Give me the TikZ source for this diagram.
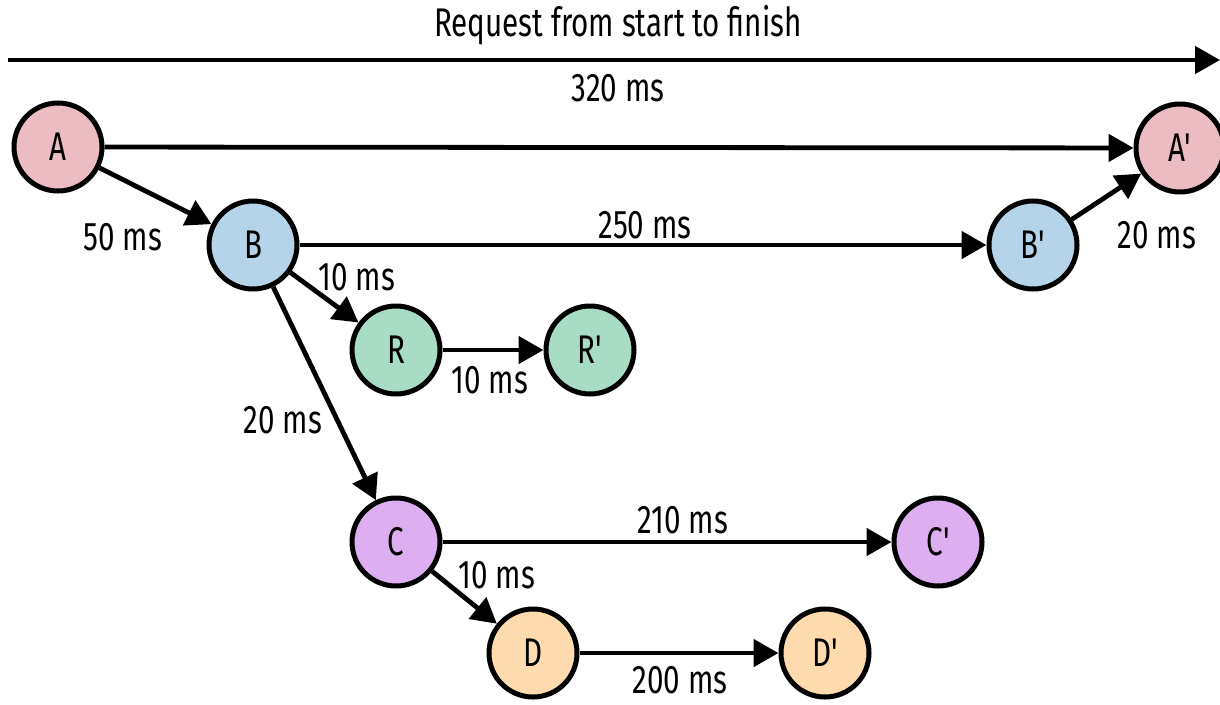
\documentclass[tikz,border=0pt]{standalone}
\usepackage{fontspec}
\setmainfont{Fira Sans}[FakeStretch=0.74,Ligatures=TeXOff]
\usetikzlibrary{arrows.meta,shadows}
\definecolor{cA}{HTML}{EBBCC1}
\definecolor{cB}{HTML}{B5D4EA}
\definecolor{cR}{HTML}{A9DCC4}
\definecolor{cC}{HTML}{DDAEF0}
\definecolor{cD}{HTML}{FDDBAF}
\begin{document}
\begin{tikzpicture}[x=1pt,y=-1pt,
  ev/.style={circle,draw=black,line width=5pt,minimum size=88pt,inner sep=0pt,font=\fontsize{40}{42}\selectfont,
    drop shadow={opacity=0.18,shadow xshift=2pt,shadow yshift=-2pt}},
  conn/.style={line width=4.8pt,-{Triangle[length=25pt,width=27pt]}},
  lbl/.style={font=\fontsize{40}{42}\selectfont,inner sep=0pt}]
\useasboundingbox (0,0) rectangle (1220,704);
\coordinate (ts) at (8,60);
\coordinate (te) at (1220,60);
\draw[conn] (ts) -- (te);
\node[lbl] (title) at (618,25) {Request from start to finish};
\node[ev,fill=cA] (A) at (58,147) {A};
\node[ev,fill=cA] (A2) at (1180,148) {A'};
\node[ev,fill=cB] (B) at (253,245) {B};
\node[ev,fill=cB] (B2) at (1033,245) {B'};
\node[ev,fill=cR] (R) at (396,350) {R};
\node[ev,fill=cR] (R2) at (590,350) {R'};
\node[ev,fill=cC] (C) at (396,542) {C};
\node[ev,fill=cC] (C2) at (938,542) {C'};
\node[ev,fill=cD] (D) at (533,653) {D};
\node[ev,fill=cD] (D2) at (825,653) {D'};
\draw[conn] (A) -- (A2);
\draw[conn] (A) -- (B);
\draw[conn] (B) -- (B2);
\draw[conn] (B2) -- (A2);
\draw[conn] (B) -- (R);
\draw[conn] (R) -- (R2);
\draw[conn] (B) -- (C);
\draw[conn] (C) -- (C2);
\draw[conn] (C) -- (D);
\draw[conn] (D) -- (D2);
\node[lbl] (l320) at (618,88) {320 ms};
\node[lbl] (l50) at (123,237) {50 ms};
\node[lbl] (l250) at (645,225) {250 ms};
\node[lbl] (l20a) at (1157,235) {20 ms};
\node[lbl] (l10a) at (357,277) {10 ms};
\node[lbl] (l10b) at (490,380) {10 ms};
\node[lbl] (l20b) at (283,420) {20 ms};
\node[lbl] (l210) at (683,520) {210 ms};
\node[lbl] (l10c) at (497,575) {10 ms};
\node[lbl] (l200) at (680,680) {200 ms};
\end{tikzpicture}
\end{document}
